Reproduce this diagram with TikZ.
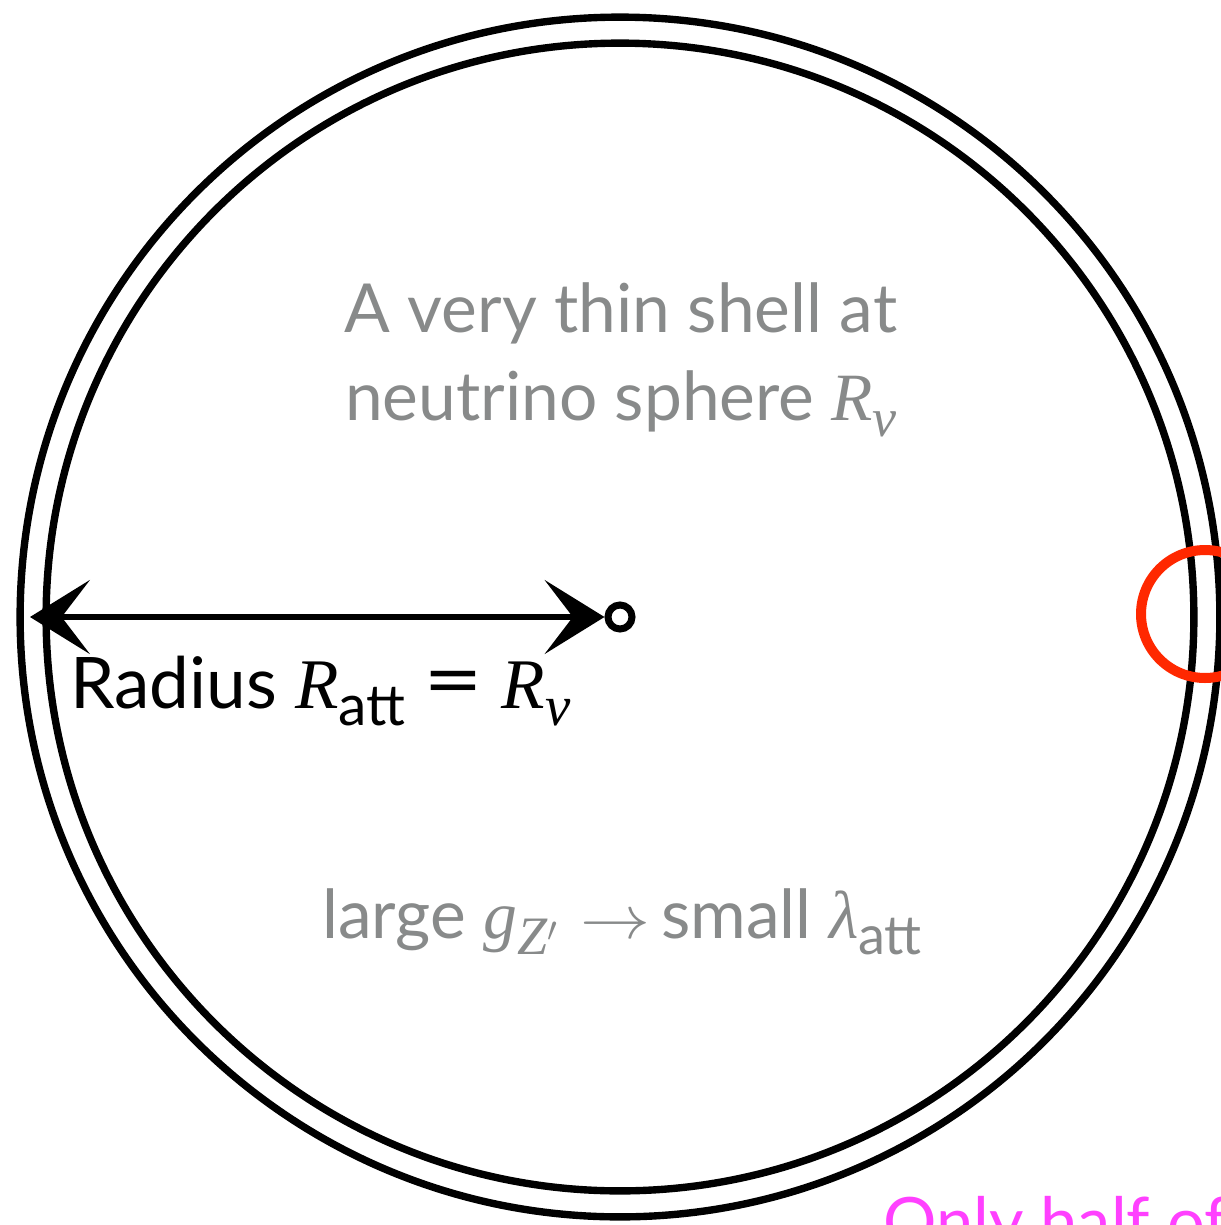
\documentclass[tikz,border=0pt]{standalone}
\usepackage{fontspec}
\usepackage{graphicx}
\setmainfont{Lato}
\newfontfamily\mif{Liberation Serif}
\usetikzlibrary{arrows.meta}
\definecolor{txtgray}{RGB}{136,138,138}
\definecolor{chalkred}{RGB}{255,40,0}
\definecolor{magent}{RGB}{255,64,255}
\newcommand\mi[1]{{\mif\itshape #1}}
\newcommand\sbs[1]{\raisebox{-0.24em}{\scalebox{0.8}{#1}}}
\begin{document}
\begin{tikzpicture}[x=0.02cm,y=-0.02cm,
  ring/.style={circle, draw=black, line width=4.2pt, inner sep=0pt},
  graytxt/.style={text=txtgray, font=\fontsize{38.5}{46}\selectfont, inner sep=0pt, anchor=base},
  blacktxt/.style={text=black, font=\fontsize{40.5}{48}\selectfont, inner sep=0pt, anchor=base west},
  pinktxt/.style={text=magent, font=\fontsize{38}{46}\selectfont, inner sep=0pt, anchor=base west},
  chalkarrow/.style={line width=3.6pt, {Stealth[length=34pt,width=42pt,inset=16pt]}-{Stealth[length=34pt,width=42pt,inset=16pt]}}]
\useasboundingbox (0,0) rectangle (1221,1225);
\clip (0,0) rectangle (1221,1225);
\node[ring, minimum size=24cm] (outer) at (620,617) {};
\node[ring, minimum size=22.96cm] (inner) at (620,617) {};
\node[circle, draw=black, line width=4pt, minimum size=0.48cm, inner sep=0pt] (c) at (620,617) {};
\coordinate (L) at (30,617);
\draw[chalkarrow] (L) -- (c.west);
\node[circle, draw=chalkred, line width=5.7pt, minimum size=2.56cm, inner sep=0pt] (red) at (1205,614) {};
\node[graytxt] (t1) at (621,332) {A very thin shell at};
\node[graytxt] (t2) at (621,420) {neutrino sphere \mi{R}\sbs{\mi{ν}}};
\node[graytxt] (t3) at (622,938) {large \mi{g}\sbs{\mi{Z}$^{\prime}$}\,\,\scalebox{1.6}[1.4]{$\rightarrow$}\,small \mi{λ}\sbs{att}};
\node[blacktxt] (rad) at (70,708) {Radius \mi{R}\sbs{att} \scalebox{1.45}[1.15]{=} \mi{R}\sbs{\mi{ν}}};
\node[pinktxt] (pink) at (883,1245) {Only half of};
\end{tikzpicture}
\end{document}
